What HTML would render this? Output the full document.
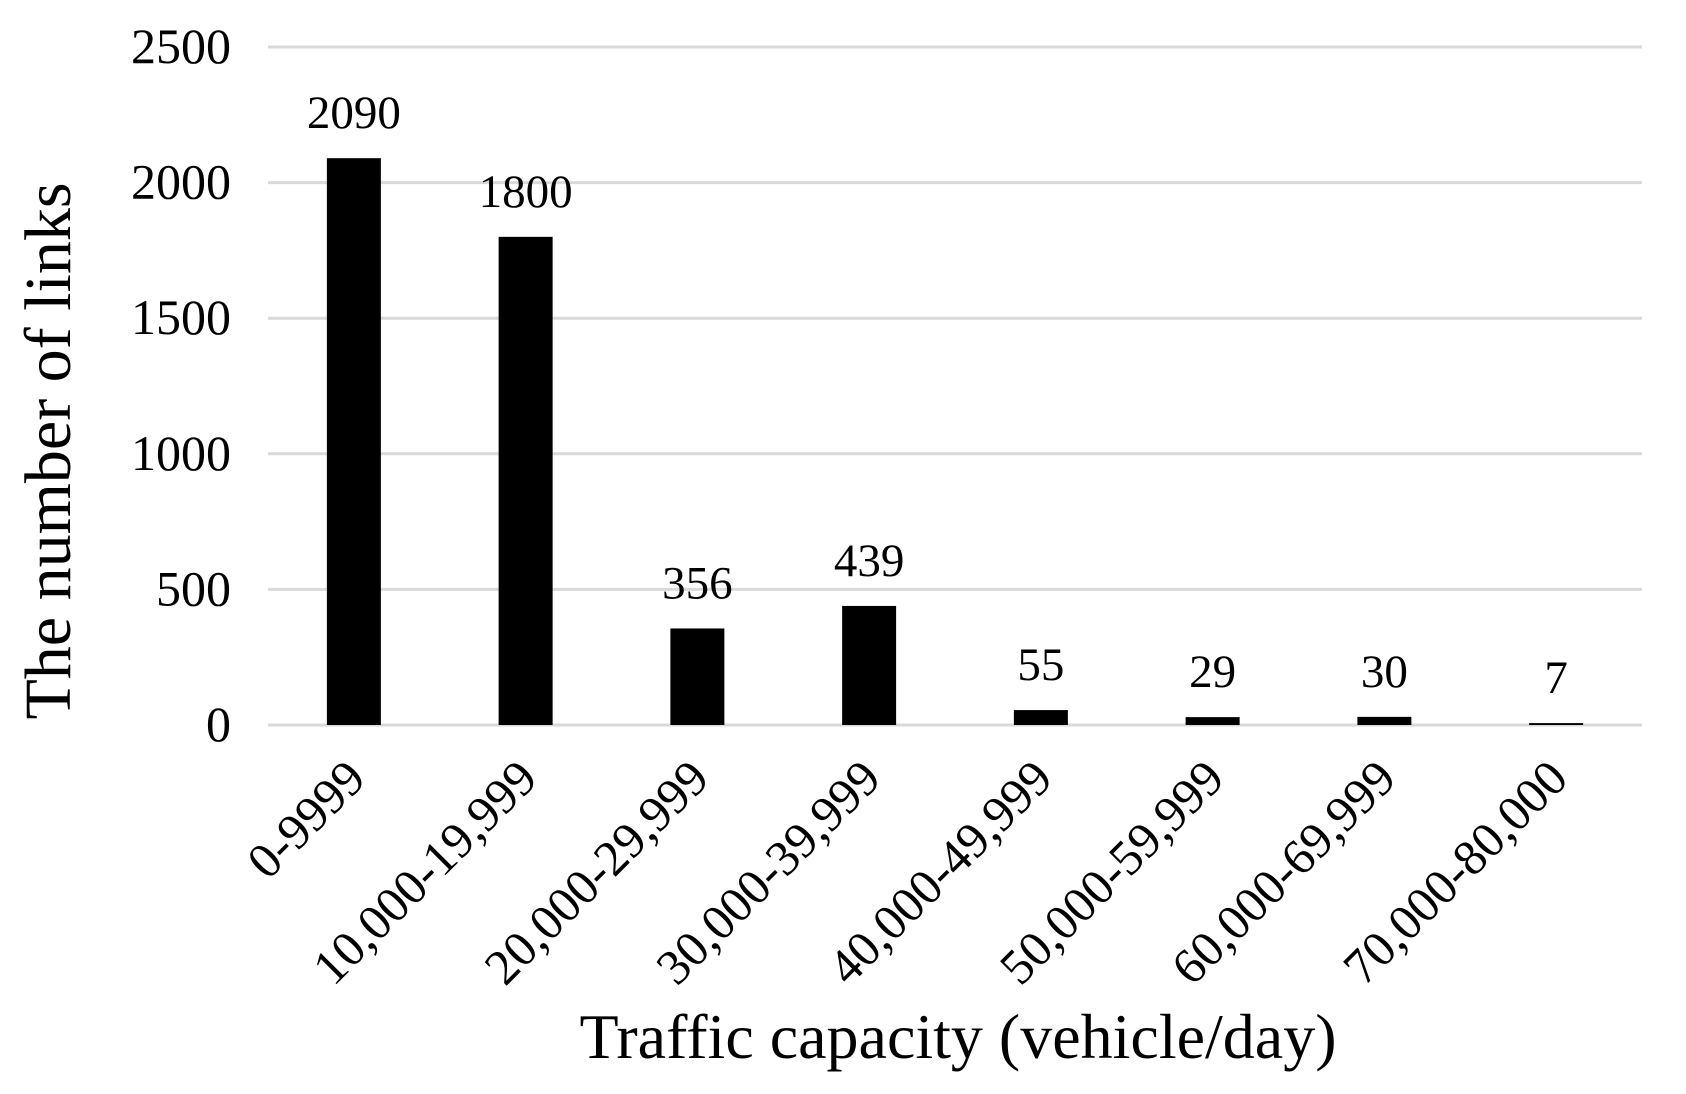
<!DOCTYPE html>
<html><head><meta charset="utf-8"><style>
html,body{margin:0;padding:0;background:#fff;}
svg{display:block;font-family:"Liberation Serif",serif;}
</style></head><body>
<svg id="chart" width="1686" height="1094" viewBox="0 0 1686 1094" xmlns="http://www.w3.org/2000/svg">
<text transform="translate(70,451) rotate(-90)" text-anchor="middle" font-size="66">The number of links</text>
<text x="958" y="1058" text-anchor="middle" font-size="64">Traffic capacity (vehicle/day)</text>
<g id="grid"></g><g id="bars"></g><g id="labels"></g>
</svg>
<script>
const categories=["0-9999","10,000-19,999","20,000-29,999","30,000-39,999","40,000-49,999","50,000-59,999","60,000-69,999","70,000-80,000"];
const values=[2090,1800,356,439,55,29,30,7];
const yTicks=[0,500,1000,1500,2000,2500];
const NS="http://www.w3.org/2000/svg";
const L=268,R=1642,T=47,B=725,yMax=2500;
const y=v=>B-(v/yMax)*(B-T);
const step=(R-L)/categories.length;
const xc=i=>L+step*(i+0.5);
const bw=54;
function mk(tag,attrs,parent,text){const e=document.createElementNS(NS,tag);for(const k in attrs)e.setAttribute(k,attrs[k]);if(text!==undefined)e.textContent=text;parent.appendChild(e);return e;}
const g=document.getElementById('grid'),gb=document.getElementById('bars'),gl=document.getElementById('labels');
yTicks.forEach(t=>{
 const ln=mk('line',{x1:L,x2:R,y1:y(t),y2:y(t),stroke:'#d9d9d9','stroke-width':3},g);
 
 
 const tx=mk('text',{x:231,y:y(t)+16,'text-anchor':'end','font-size':50},g,String(t));
 
 
});
values.forEach((v,i)=>{
 const r=mk('rect',{x:xc(i)-bw/2,y:y(v),width:bw,height:B-y(v),fill:'#000'},gb);
 
 
 const t=mk('text',{x:xc(i),y:y(v)-30,'text-anchor':'middle','font-size':47},gl,String(v));
 
 
 const c=mk('text',{transform:`translate(${xc(i)+14},${B+56}) rotate(-45)`,'text-anchor':'end','font-size':50},gl,categories[i]);
 
 
});
</script>
</body></html>
